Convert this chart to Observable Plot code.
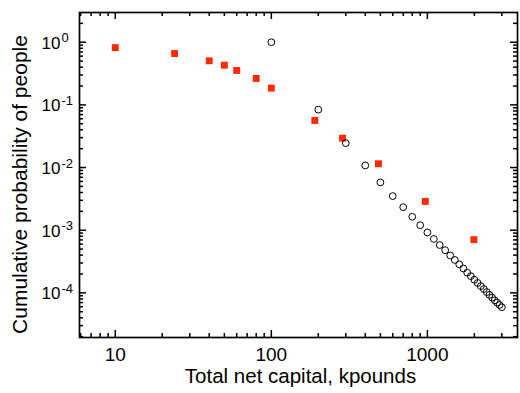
<!DOCTYPE html>
<html><head><meta charset="utf-8">
<script src="https://cdn.jsdelivr.net/npm/d3@7"></script>
<script src="https://cdn.jsdelivr.net/npm/@observablehq/plot@0.6"></script>
<style>body{margin:0;background:#fff}</style>
</head><body><div id="chart"></div>
<script>
// Red squares (grouped data)
const squareCapital = [10, 24, 40, 50, 60, 80, 100, 190, 286, 486, 970, 1986];
const squareProb = [0.82, 0.66, 0.505, 0.43, 0.354, 0.264, 0.185, 0.0564, 0.0294, 0.0115, 0.00288, 0.000707];
// Open circles
const circleCapital = [100, 200, 300, 400, 500, 600, 700, 800, 900, 1000,
  1100, 1200, 1300, 1400, 1500, 1600, 1700, 1800, 1900, 2000,
  2100, 2200, 2300, 2400, 2500, 2600, 2700, 2800, 2900, 3000];
const circleProb = [1.0, 0.084, 0.0245, 0.0108, 0.0058, 0.0035, 0.00233, 0.00164, 0.0012, 0.00092,
  0.000725, 0.00058, 0.00048, 0.000395, 0.000335, 0.000285, 0.000245, 0.00021, 0.000185, 0.000162,
  0.000144, 0.000128, 0.000115, 0.000103, 0.000093, 0.000084, 0.000076, 0.00007, 0.000064, 0.000059];
// Axes
const xMajor = [10, 100, 1000];
const xMajorLabels = ["10", "100", "1000"];
const xMinor = [6, 7, 8, 9, 20, 30, 40, 50, 60, 70, 80, 90, 200, 300, 400, 500, 600, 700, 800, 900, 2000, 3000];
const yMajor = [1, 0.1, 0.01, 0.001, 0.0001];
const yExponents = ["0", "-1", "-2", "-3", "-4"];
const yMinor = [2e-5,3e-5,4e-5,5e-5,6e-5,7e-5,8e-5,9e-5,
  2e-4,3e-4,4e-4,5e-4,6e-4,7e-4,8e-4,9e-4,
  2e-3,3e-3,4e-3,5e-3,6e-3,7e-3,8e-3,9e-3,
  2e-2,3e-2,4e-2,5e-2,6e-2,7e-2,8e-2,9e-2,
  0.2,0.3,0.4,0.5,0.6,0.7,0.8,0.9,2];
const xTitle = "Total net capital, kpounds";
const yTitle = "Cumulative probability of people";

const squares = squareCapital.map((x, i) => ({x, y: squareProb[i]}));
const circles = circleCapital.map((x, i) => ({x, y: circleProb[i]}));

const W = 520, H = 393, mL = 79, mR = 3, mT = 12, mB = 56;
const iw = W - mL - mR, ih = H - mT - mB;
const major = 7, minor = 4;
const tw = 1.5;

const chart = Plot.plot({
  width: W, height: H,
  marginLeft: mL, marginRight: mR, marginTop: mT, marginBottom: mB,
  style: {fontFamily: "'Liberation Sans', Arial, Helvetica, sans-serif", background: "white", color: "black"},
  x: {type: "log", domain: [5.9, 3780], axis: null},
  y: {type: "log", domain: [1.94e-5, 2.98], axis: null},
  marks: [
    // ticks bottom / top (pointing inward)
    Plot.tickX(xMajor, {x: d => d, insetTop: ih - major, stroke: "black", strokeWidth: tw}),
    Plot.tickX(xMinor, {x: d => d, insetTop: ih - minor, stroke: "black", strokeWidth: tw}),
    Plot.tickX(xMajor, {x: d => d, insetBottom: ih - major, stroke: "black", strokeWidth: tw}),
    Plot.tickX(xMinor, {x: d => d, insetBottom: ih - minor, stroke: "black", strokeWidth: tw}),
    // ticks left / right (pointing inward)
    Plot.tickY(yMajor, {y: d => d, insetRight: iw - major, stroke: "black", strokeWidth: tw}),
    Plot.tickY(yMinor, {y: d => d, insetRight: iw - minor, stroke: "black", strokeWidth: tw}),
    Plot.tickY(yMajor, {y: d => d, insetLeft: iw - major, stroke: "black", strokeWidth: tw}),
    Plot.tickY(yMinor, {y: d => d, insetLeft: iw - minor, stroke: "black", strokeWidth: tw}),
    Plot.frame({stroke: "black", strokeWidth: 1.7}),
    // x tick labels
    Plot.text(xMajor, {x: d => d, text: (d, i) => xMajorLabels[i], frameAnchor: "bottom", dy: 17, lineAnchor: "middle", fontSize: 19, fill: "black"}),
    // y tick labels (base + exponent)
    Plot.text(yMajor, {y: d => d, text: () => "10", frameAnchor: "left", dx: -38, dy: 1, textAnchor: "start", lineAnchor: "middle", fontSize: 17, fill: "black"}),
    Plot.text(yMajor, {y: d => d, text: (d, i) => yExponents[i], frameAnchor: "left", dx: -18, dy: -4, textAnchor: "start", lineAnchor: "middle", fontSize: 13, fill: "black"}),
    // titles
    Plot.text([xTitle], {text: d => d, frameAnchor: "bottom", dx: 2, dy: 39, textAnchor: "middle", lineAnchor: "middle", fontSize: 20.5, fill: "black"}),
    Plot.text([yTitle], {text: d => d, frameAnchor: "left", dx: -59, dy: 9.5, rotate: -90, textAnchor: "middle", lineAnchor: "middle", fontSize: 21, fill: "black"}),
    // data
    Plot.dot(squares, {x: "x", y: "y", symbol: "square", r: 3.9, fill: "#ff2a00", stroke: "none"}),
    Plot.dot(circles, {x: "x", y: "y", symbol: "circle", r: 3.4, fill: "none", stroke: "black", strokeWidth: 1})
  ]
});
document.getElementById("chart").appendChild(chart);
</script></body></html>
